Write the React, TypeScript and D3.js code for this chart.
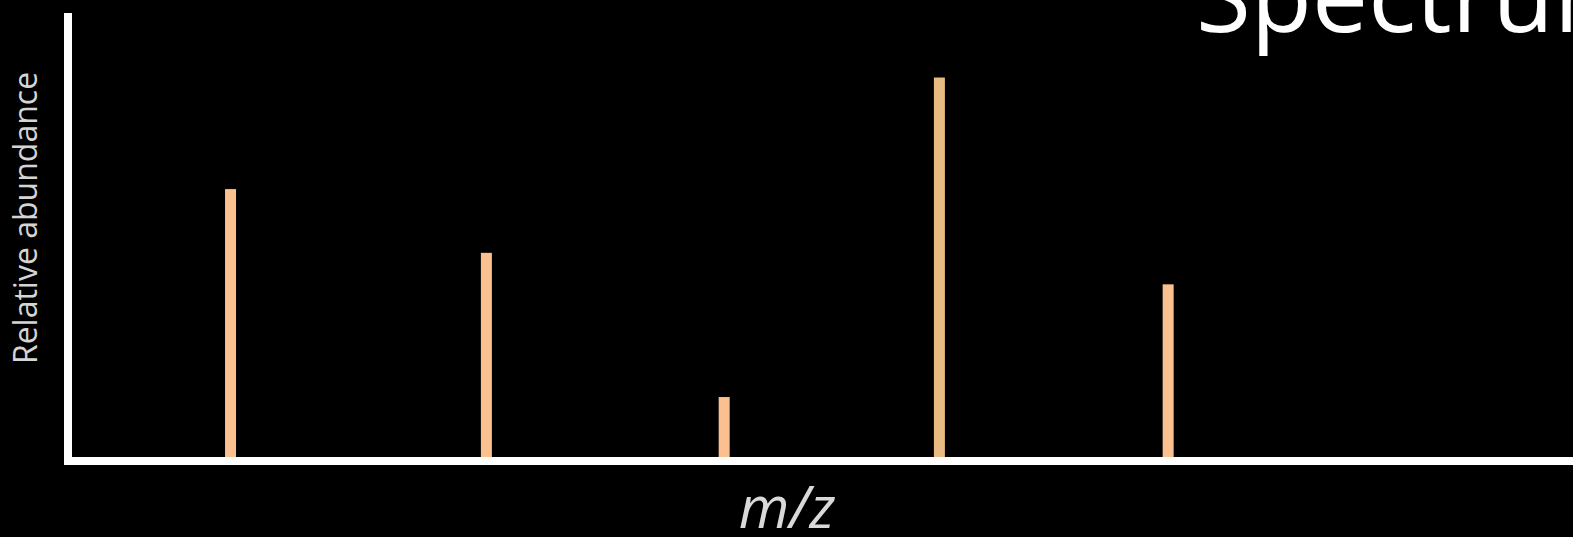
import React from "react";
import * as d3 from "d3";

// Mass spectrum: peak positions (arbitrary m/z units) and relative abundances (%)
const peakMz: number[] = [10.8, 27.8, 43.6, 57.9, 73.1];
const peakAbundance: number[] = [70.6, 53.8, 15.8, 100, 45.5];
const peakColors: string[] = ["#FAC090", "#FAC090", "#FAC090", "#E8BB82", "#FAC090"];

const title = "Spectrum";
const xLabel = "m/z";
const yLabel = "Relative abundance";

const W = 1573;
const H = 537;

export default function App() {
  const x = d3.scaleLinear().domain([0, 100]).range([68, 1573]);
  const y = d3.scaleLinear().domain([0, 117]).range([457, 13]);
  const barW = 11;
  const axisW = 8;

  const axisPath = d3.path();
  axisPath.moveTo(x(0), y(117));
  axisPath.lineTo(x(0), y(0) + axisW / 2);
  axisPath.moveTo(x(0) - axisW / 2, y(0) + axisW / 2);
  axisPath.lineTo(W, y(0) + axisW / 2);

  return (
    <svg
      width={W}
      height={H}
      style={{ position: "absolute", left: 0, top: 0, display: "block", background: "#000" }}
    >
      <rect x={0} y={0} width={W} height={H} fill="#000" />
      <text
        x={1196}
        y={32}
        fill="#ffffff"
        fontFamily="'Open Sans', sans-serif"
        fontSize={100}
      >
        {title}
      </text>
      {peakMz.map((m, i) => (
        <rect
          key={i}
          x={x(m) - barW / 2}
          y={y(peakAbundance[i])}
          width={barW}
          height={y(0) - y(peakAbundance[i])}
          fill={peakColors[i]}
        />
      ))}
      <path d={axisPath.toString()} stroke="#ffffff" strokeWidth={axisW} fill="none" />
      <text
        transform="translate(37,218) rotate(-90)"
        textAnchor="middle"
        fill="#d4d4d4"
        fontFamily="'Open Sans', sans-serif"
        fontSize={32}
      >
        {yLabel}
      </text>
      <text
        x={787}
        y={528}
        textAnchor="middle"
        fill="#d9d9d9"
        fontFamily="'Open Sans', sans-serif"
        fontStyle="italic"
        fontSize={58}
      >
        {xLabel}
      </text>
    </svg>
  );
}
